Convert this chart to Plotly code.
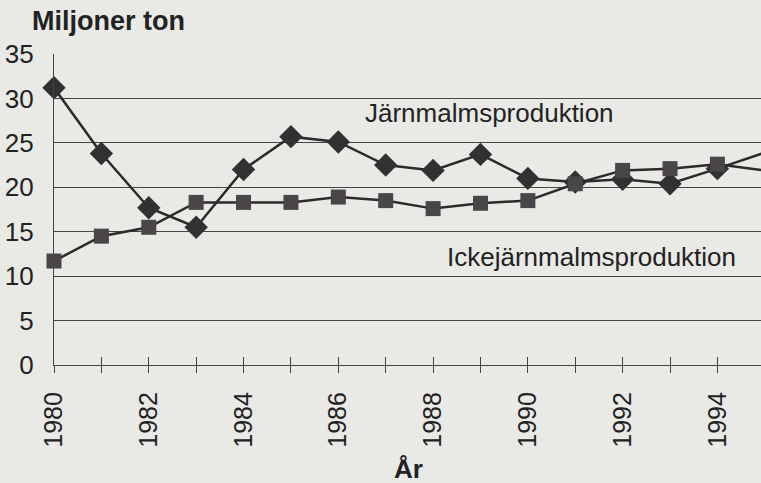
import plotly.graph_objects as go

years = list(range(1980, 1996))
jarn = [31.2, 23.8, 17.7, 15.5, 22.0, 25.7, 25.1, 22.5, 21.9, 23.7, 21.0, 20.6, 20.9, 20.4, 22.1, 23.9]
icke = [11.7, 14.5, 15.5, 18.3, 18.3, 18.3, 18.9, 18.5, 17.6, 18.2, 18.5, 20.4, 21.9, 22.1, 22.6, 21.9]
tick_years = list(range(1980, 1996))
tick_text = [str(y) if y % 2 == 0 else "" for y in tick_years]
y_ticks = [0, 5, 10, 15, 20, 25, 30, 35]

FONT = "Liberation Sans, Arial, sans-serif"
INK = "#2b2b2b"
BG = "#e9e9e6"

fig = go.Figure()
fig.add_trace(go.Scatter(
    x=years, y=jarn, mode="lines+markers", name="Järnmalmsproduktion",
    line=dict(color=INK, width=2.5),
    marker=dict(symbol="diamond", size=18, color="#333033"),
    cliponaxis=False, showlegend=False))
fig.add_trace(go.Scatter(
    x=years, y=icke, mode="lines+markers", name="Ickejärnmalmsproduktion",
    line=dict(color=INK, width=2.5),
    marker=dict(symbol="square", size=15, color="#4a4548"),
    cliponaxis=False, showlegend=False))
# invisible trace on overlay axis for inside ticks
fig.add_trace(go.Scatter(x=[1980], y=[0], xaxis="x2", mode="markers",
                         marker=dict(opacity=0), showlegend=False, hoverinfo="skip"))

xr = [1980, 1994.92]
fig.update_layout(
    width=761, height=483,
    margin=dict(l=54, r=0, t=54, b=118),
    paper_bgcolor=BG, plot_bgcolor=BG,
    font=dict(family=FONT, size=26, color="#222"),
    xaxis=dict(range=xr, tickmode="array", tickvals=tick_years, ticktext=tick_text,
               tickangle=-90, ticks="outside", ticklen=7, tickcolor="#444", tickwidth=1.2,
               showgrid=False, zeroline=False, showline=True, linecolor="#444", linewidth=1.2,
               tickfont=dict(size=25, family=FONT), ticklabelstandoff=9),
    xaxis2=dict(range=xr, overlaying="x", anchor="y", side="bottom", tickmode="array",
                tickvals=tick_years, ticks="inside", ticklen=8, tickcolor="#444", tickwidth=1.2,
                showticklabels=False, showgrid=False, zeroline=False, showline=False),
    yaxis=dict(range=[0, 35], tickmode="array", tickvals=y_ticks,
               showgrid=True, gridcolor="#464646", gridwidth=1.2, zeroline=False,
               showline=True, linecolor="#444", linewidth=1.2, ticks="",
               tickfont=dict(size=26, family=FONT), ticklabelstandoff=14),
    annotations=[
        dict(text="<b>Miljoner ton</b>", xref="paper", yref="paper", x=-0.034, y=1.0,
             xanchor="left", yanchor="bottom", yshift=16, showarrow=False,
             font=dict(size=27, family=FONT, color="#222")),
        dict(text="Järnmalmsproduktion", xref="x", yref="y", x=1989.2, y=28.4,
             xanchor="center", yanchor="middle", showarrow=False,
             font=dict(size=26, family=FONT, color="#222")),
        dict(text="Ickejärnmalmsproduktion", xref="x", yref="y", x=1991.35, y=12.2,
             xanchor="center", yanchor="middle", showarrow=False,
             font=dict(size=26, family=FONT, color="#222")),
        dict(text="<b>År</b>", xref="paper", yref="paper", x=0.502, y=0,
             xanchor="center", yanchor="top", yshift=-87, showarrow=False,
             font=dict(size=26, family=FONT, color="#222")),
    ],
)
fig.write_html("out.html", config={"displayModeBar": False},
               post_script="document.body.style.margin='0';document.body.style.overflow='hidden';"
                           "document.body.style.background='#e9e9e6';")
